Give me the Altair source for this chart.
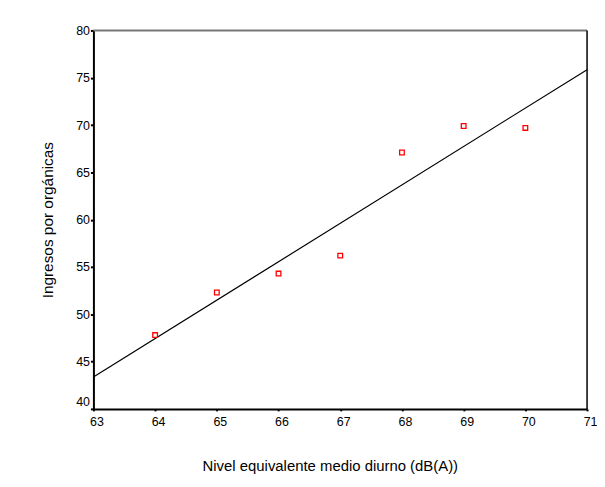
import altair as alt
import pandas as pd

nivel = [64, 65, 66, 67, 68, 69, 70]
ingresos = [47.8, 52.3, 54.3, 56.2, 67.1, 69.9, 69.7]

df = pd.DataFrame({"nivel": nivel, "ingresos": ingresos})

FONT = "Liberation Sans"

xscale = alt.Scale(domain=[63, 71], nice=False, zero=False)
yscale = alt.Scale(domain=[40, 80], nice=False, zero=False)

base = alt.Chart(df)

points = base.mark_point(
    shape="square", filled=False, color="#ff0000", size=22, strokeWidth=1.3, opacity=1
).encode(
    x=alt.X(
        "nivel:Q",
        scale=xscale,
        axis=alt.Axis(
            title="Nivel equivalente medio diurno (dB(A))",
            values=[63, 64, 65, 66, 67, 68, 69, 70, 71],
            format="d",
            grid=False,
            domainColor="black",
            domainWidth=2,
            tickColor="black",
            tickWidth=2,
            tickSize=2,
            labelPadding=5,
            labelOffset=3,
            labelFlush=False,
            labelFont=FONT,
            labelFontSize=12.5,
            labelColor="black",
            titleFont=FONT,
            titleFontSize=15,
            titleFontWeight="normal",
            titleColor="black",
            titlePadding=31,
            titleX=238,
        ),
    ),
    y=alt.Y(
        "ingresos:Q",
        scale=yscale,
        axis=alt.Axis(
            title="Ingresos por orgánicas",
            values=[40, 45, 50, 55, 60, 65, 70, 75, 80],
            format="d",
            grid=False,
            domainColor="black",
            domainWidth=2,
            tickColor="black",
            tickWidth=2,
            tickSize=3,
            labelPadding=1,
            labelFlush=False,
            labelBaseline={"condition": {"test": "datum.value == 40", "value": "bottom"}, "value": "middle"},
            labelFont=FONT,
            labelFontSize=12.5,
            labelColor="black",
            titleFont=FONT,
            titleFontSize=15.5,
            titleFontWeight="normal",
            titleColor="black",
            titlePadding=20,
        ),
    ),
)

fit = base.transform_regression(
    "nivel", "ingresos", extent=[63, 71]
).mark_line(color="black", strokeWidth=1.2, clip=True).encode(
    x=alt.X("nivel:Q", scale=xscale),
    y=alt.Y("ingresos:Q", scale=yscale),
)

top_border = alt.Chart(pd.DataFrame({"v": [80]})).mark_rule(color="#777777", strokeWidth=2).encode(
    y=alt.Y("v:Q", scale=yscale)
)
right_border = alt.Chart(pd.DataFrame({"v": [71]})).mark_rule(color="black", strokeWidth=1.5).encode(
    x=alt.X("v:Q", scale=xscale)
)

chart = alt.layer(top_border, right_border, fit, points).properties(
    width=497,
    height=381,
    autosize=alt.AutoSizeParams(type="none"),
    padding={"left": 86, "top": 21, "right": 10, "bottom": 72},
    background="white",
).configure_view(stroke=None)

chart.save("out.html", embed_options={"renderer": "svg", "actions": False})
